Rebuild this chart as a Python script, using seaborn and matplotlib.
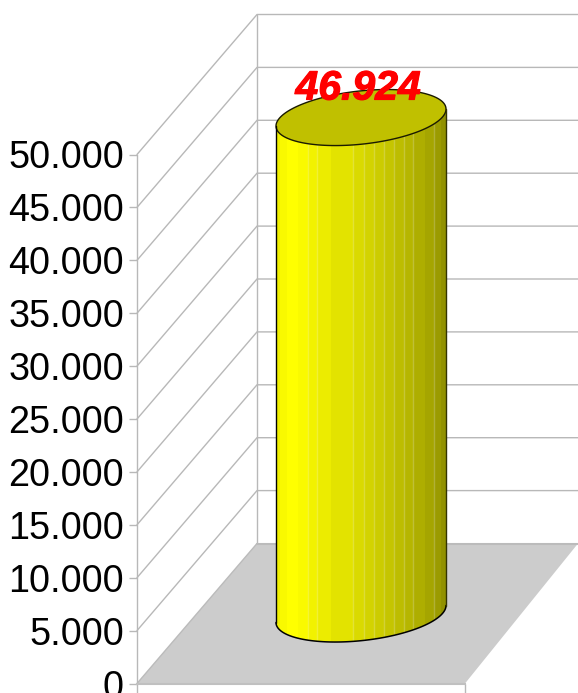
import numpy as np
import pandas as pd
import matplotlib
matplotlib.use("Agg")
import matplotlib.pyplot as plt
from matplotlib.patches import Polygon
import matplotlib.patheffects as pe
import seaborn as sns

# Data
VALUE = 46924
TICKS = [0, 5000, 10000, 15000, 20000, 25000, 30000, 35000, 40000, 45000, 50000]
TICK_LABELS = ["0", "5.000", "10.000", "15.000", "20.000", "25.000",
               "30.000", "35.000", "40.000", "45.000", "50.000"]
VALUE_LABEL = "46.924"

# Layout, in pixels of the 578x693 picture
W, H = 578, 693
Y0 = 683.5
PX_PER_UNIT = 52.9 / 5000
LEFT, RIGHT = 137, 465
DEPTH_X, DEPTH_Y = 120, 140
CX, A = 361, 85
BASE_CY = 614
SHEAR, B = 8.5, 26.7

GRID = "#b8b8b8"
FLOOR = "#cccccc"
TOP = "#c0c000"


def to_val(py):
    return (Y0 - py) / PX_PER_UNIT


def depth(px_dy):
    return px_dy / PX_PER_UNIT


def front_edge(x):
    # lower half of the sheared ellipse, pixels below its centre
    c = np.clip((x - CX) / A, -1, 1)
    return -SHEAR * c + B * np.sqrt(1 - c ** 2)


sns.set_theme(style="white")
plt.rcParams["font.family"] = ["Liberation Sans", "DejaVu Sans"]

fig = plt.figure(figsize=(W / 100, H / 100), dpi=100)
ax = fig.add_axes([0, 0, 1, 1])

# ── cylinder body: one pixel wide bars, all as tall as the value ──
xs = np.arange(CX - A, CX + A) + 0.5
band_edges = np.array([276, 280, 287, 298, 308, 317, 331, 353, 364, 374, 384,
                       394, 404, 413, 425, 434, 441, 446])
band_mid = (band_edges[:-1] + band_edges[1:]) / 2
band_light = np.interp(band_mid, [276, 287, 298, 308, 330, 353, 375, 400, 420, 434, 446],
                       [0.93, 1.0, 1.0, 0.96, 0.91, 0.87, 0.81, 0.74, 0.68, 0.63, 0.55])
levels = band_light[np.clip(np.searchsorted(band_edges, xs) - 1, 0, len(band_mid) - 1)]
palette = {x: (l, l, 0) for x, l in zip(xs, levels)}
body = pd.DataFrame({"x": xs, "value": VALUE})
sns.barplot(data=body, x="x", y="value", hue="x", palette=palette, native_scale=True,
            dodge=False, width=1, saturation=1, legend=False, linewidth=0, errorbar=None, ax=ax)
base_val = to_val(BASE_CY)
for p in ax.patches:
    mid = p.get_x() + p.get_width() / 2
    p.set_y(to_val(BASE_CY + front_edge(mid)))
    p.set_antialiased(False)
    p.set_zorder(3)

# pale seams between some of the facets
seams = np.array([308, 317, 353, 364, 374, 384, 394, 404, 413, 434])
ax.vlines(seams, to_val(BASE_CY + front_edge(seams)),
          to_val(BASE_CY + front_edge(seams)) + VALUE,
          color="white", alpha=0.22, lw=1, zorder=3.1)

# outline and top of the cylinder
t = np.linspace(0, 2 * np.pi, 241)
ell_x = CX + A * np.cos(t)
ell_dy = -SHEAR * np.cos(t) + B * np.sin(t)
top_val = base_val + VALUE
ax.add_patch(Polygon(np.column_stack([ell_x, top_val - depth(ell_dy)]), closed=True,
                     facecolor=TOP, edgecolor="#1a1a00", lw=1, zorder=4))
lower = t <= np.pi
ax.plot(ell_x[lower], base_val - depth(ell_dy[lower]), color="black", lw=1.1, zorder=4)
ax.plot([CX - A, CX - A], [base_val - depth(SHEAR), top_val - depth(SHEAR)],
        color="black", lw=1, zorder=4)
ax.plot([CX + A, CX + A], [base_val + depth(SHEAR), top_val + depth(SHEAR)],
        color="#333300", lw=1, zorder=4)

# ── walls and floor ──
for tick in TICKS[1:]:
    ax.plot([LEFT, LEFT + DEPTH_X, W], [tick, tick + depth(DEPTH_Y), tick + depth(DEPTH_Y)],
            color=GRID, lw=1, zorder=1)
ax.plot([LEFT + DEPTH_X] * 2, [depth(DEPTH_Y), TICKS[-1] + depth(DEPTH_Y)], color=GRID, lw=1, zorder=1)
ax.add_patch(Polygon([(LEFT, 0), (RIGHT, 0), (W, depth(DEPTH_Y)), (LEFT + DEPTH_X, depth(DEPTH_Y))],
                     closed=True, facecolor=FLOOR, edgecolor="none", zorder=1.5))
ax.plot([LEFT + DEPTH_X, W], [depth(DEPTH_Y)] * 2, color="#bbbbbb", lw=1.5, zorder=1.6)
ax.plot([LEFT, LEFT + DEPTH_X], [0, depth(DEPTH_Y)], color="#bbbbbb", lw=1, zorder=1.6)

# value label
ax.text(358, top_val + depth(29), VALUE_LABEL, color="red", fontsize=29.5, fontweight="bold",
        fontstyle="italic", ha="center", va="center", zorder=5,
        path_effects=[pe.withStroke(linewidth=0.8, foreground="red")])

# ── axes ──
ax.set_xlim(0, W)
ax.set_ylim(to_val(H), to_val(0))
ax.set_xlabel("")
ax.set_ylabel("")
ax.patch.set_alpha(0)
for side in ["top", "right"]:
    ax.spines[side].set_visible(False)
ax.spines["left"].set_position(("data", LEFT))
ax.spines["left"].set_bounds(to_val(H), TICKS[-1])
ax.spines["bottom"].set_position(("data", 0))
ax.spines["bottom"].set_bounds(LEFT, RIGHT)
ax.spines["left"].set_color(GRID)
ax.spines["bottom"].set_color("#c0c0c0")
ax.spines["left"].set_linewidth(1)
ax.spines["bottom"].set_linewidth(1.5)
ax.set_yticks(TICKS, TICK_LABELS)
ax.set_xticks([RIGHT], [""])
ax.tick_params(axis="y", left=True, length=6, width=1, color=GRID, pad=3.5,
               labelsize=27.2, labelcolor="black")
ax.tick_params(axis="x", bottom=True, length=7, width=1, color=GRID)

fig.savefig("out.png", dpi=100)
